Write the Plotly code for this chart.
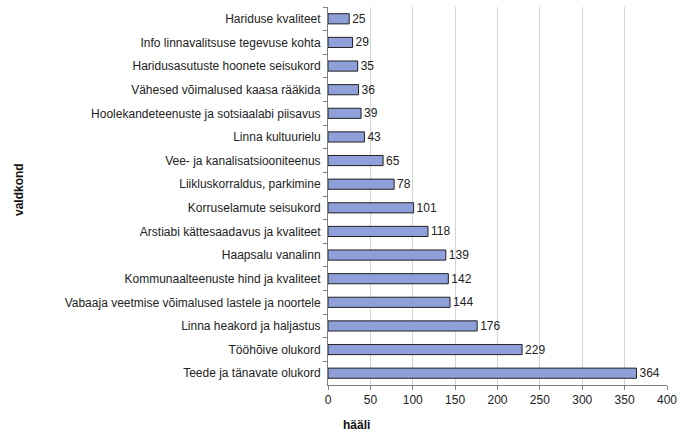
import plotly.graph_objects as go

categories = [
    "Hariduse kvaliteet",
    "Info linnavalitsuse tegevuse kohta",
    "Haridusasutuste hoonete seisukord",
    "Vähesed võimalused kaasa rääkida",
    "Hoolekandeteenuste ja sotsiaalabi piisavus",
    "Linna kultuurielu",
    "Vee- ja kanalisatsiooniteenus",
    "Liikluskorraldus, parkimine",
    "Korruselamute seisukord",
    "Arstiabi kättesaadavus ja kvaliteet",
    "Haapsalu vanalinn",
    "Kommunaalteenuste hind ja kvaliteet",
    "Vabaaja veetmise võimalused lastele ja noortele",
    "Linna heakord ja haljastus",
    "Tööhõive olukord",
    "Teede ja tänavate olukord",
]
votes = [25, 29, 35, 36, 39, 43, 65, 78, 101, 118, 139, 142, 144, 176, 229, 364]
x_ticks = [0, 50, 100, 150, 200, 250, 300, 350, 400]

font_family = "Liberation Sans, Arial, sans-serif"

W, H = 681, 434
L, R, T, B = 328, 14, 7, 49

fig = go.Figure(
    go.Bar(
        y=categories,
        x=votes,
        orientation="h",
        width=0.43,
        marker=dict(color="#8E9FD9", line=dict(color="#222222", width=1)),
        text=[str(v) for v in votes],
        textposition="outside",
        constraintext="none",
        textfont=dict(family=font_family, size=12, color="#222222"),
        cliponaxis=False,
    )
)

fig.update_layout(
    width=W,
    height=H,
    margin=dict(l=L, r=R, t=T, b=B, autoexpand=False),
    paper_bgcolor="white",
    plot_bgcolor="white",
    showlegend=False,
    font=dict(family=font_family, size=12, color="#222222"),
    xaxis=dict(
        range=[0, 400],
        tickvals=x_ticks,
        ticktext=[str(t) for t in x_ticks],
        showgrid=True,
        gridcolor="#D4D4D4",
        gridwidth=1,
        showline=True,
        linecolor="#808080",
        linewidth=1,
        ticks="outside",
        ticklen=4,
        tickcolor="#808080",
        zeroline=False,
        tickfont=dict(size=12, color="#222222"),
        fixedrange=True,
        automargin=False,
    ),
    yaxis=dict(
        categoryorder="array",
        categoryarray=categories,
        autorange="reversed",
        showline=True,
        linecolor="#808080",
        linewidth=1,
        ticks="outside",
        tickson="boundaries",
        ticklen=4,
        tickcolor="#808080",
        ticklabelstandoff=4,
        showgrid=False,
        tickfont=dict(size=12, color="#222222"),
        fixedrange=True,
        automargin=False,
    ),
)

plot_w = W - L - R
plot_h = H - T - B


def px_to_paper(px, py):
    # px, py are window pixel coordinates
    return (px - L) / plot_w, (H - B - py) / plot_h


ax, ay = px_to_paper(19, 190)
bx, by = px_to_paper(356, 425)
fig.add_annotation(
    text="<b>valdkond</b>", x=ax, y=ay, xref="paper", yref="paper",
    xanchor="center", yanchor="middle",
    showarrow=False, textangle=-90, font=dict(size=12, color="#111111"),
)
fig.add_annotation(
    text="<b>hääli</b>", x=bx, y=by, xref="paper", yref="paper",
    xanchor="center", yanchor="middle",
    showarrow=False, font=dict(size=12, color="#111111"),
)

fig.write_html(
    "out.html",
    config={"displayModeBar": False},
    post_script="document.body.style.margin='0';document.body.style.overflow='hidden';",
)
